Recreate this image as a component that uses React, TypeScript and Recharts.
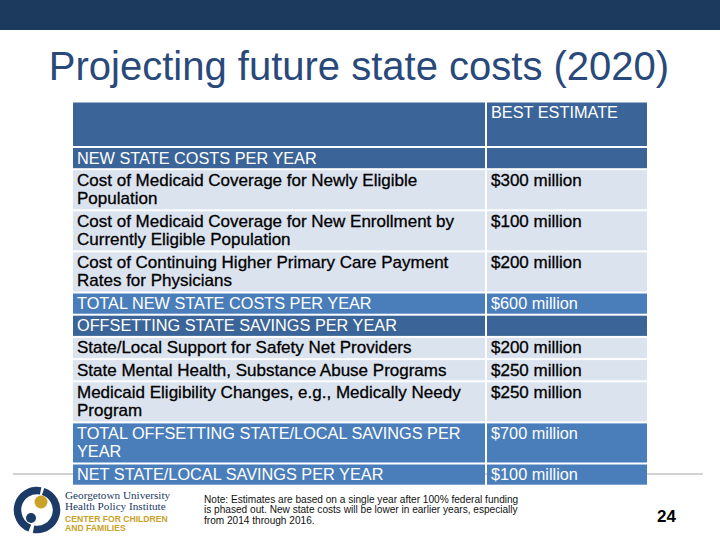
import React from 'react';
import { ComposedChart, XAxis, YAxis, ReferenceArea } from 'recharts';

// ---------- data ----------
const columnHeader = 'BEST ESTIMATE';
const rowLabels: string[][] = [
  [],
  ['NEW STATE COSTS PER YEAR'],
  ['Cost of Medicaid Coverage for Newly Eligible', 'Population'],
  ['Cost of Medicaid Coverage for New Enrollment by', 'Currently Eligible Population'],
  ['Cost of Continuing Higher Primary Care Payment', 'Rates for Physicians'],
  ['TOTAL NEW STATE COSTS PER YEAR'],
  ['OFFSETTING STATE SAVINGS PER YEAR'],
  ['State/Local Support for Safety Net Providers'],
  ['State Mental Health, Substance Abuse Programs'],
  ['Medicaid Eligibility Changes, e.g., Medically Needy', 'Program'],
  ['TOTAL OFFSETTING STATE/LOCAL SAVINGS PER', 'YEAR'],
  ['NET STATE/LOCAL SAVINGS PER YEAR'],
];
const rowValues: (number | null)[] = [null, null, 300, 100, 200, 600, null, 200, 250, 250, 700, 100];
const rowKinds: string[] = ['header', 'section', 'item', 'item', 'item', 'total', 'section', 'item', 'item', 'item', 'total', 'total'];
const rowLineCounts: number[] = [2, 1, 2, 2, 2, 1, 1, 1, 1, 2, 2, 1];
const valueUnit = 'million';
const title = 'Projecting future state costs (2020)';
const noteLines = [
  'Note:  Estimates are based on a single year after 100% federal funding',
  'is phased out.  New state costs will be lower in earlier years, especially',
  'from 2014 through 2016.',
];
const pageNumber = '24';
const logoLines = ['Georgetown University', 'Health Policy Institute', 'CENTER FOR CHILDREN', 'AND FAMILIES'];

// ---------- layout ----------
const FONT = '"Liberation Sans", Arial, sans-serif';
const HEADER_SPAN = 45.5;
const ONE_LINE_SPAN = 22.2;
const PER_EXTRA_LINE = 18.9;
const GAP = 2;
const COL_SPLIT = 412;
const COL_END = 574;

const fills: Record<string, string> = {
  header: '#3b6598',
  section: '#3b6598',
  total: '#4a7ebb',
  item: '#dbe3ef',
};
const textColors: Record<string, string> = {
  header: '#ffffff',
  section: '#ffffff',
  total: '#ffffff',
  item: '#000000',
};

type Row = { top: number; bottom: number; kind: string; label: string[]; value: string };
const rows: Row[] = [];
let acc = 0;
rowLabels.forEach((label, i) => {
  const kind = rowKinds[i];
  const span = kind === 'header' ? HEADER_SPAN : ONE_LINE_SPAN + (rowLineCounts[i] - 1) * PER_EXTRA_LINE;
  const v = rowValues[i];
  rows.push({
    top: acc,
    bottom: acc + span - GAP,
    kind,
    label,
    value: kind === 'header' ? columnHeader : v == null ? '' : `$${v} ${valueUnit}`,
  });
  acc += span;
});
const TOTAL = acc;

const cellShape = (fill: string, lines: string[], color: string) => (p: any) => {
  const dark = color === '#000000';
  return (
    <g>
      <rect x={p.x} y={p.y} width={p.width} height={p.height} fill={fill} />
      {lines.map((t, i) => (
        <text
          key={i}
          x={p.x + 4}
          y={p.y + 15.5 + i * 18.5}
          fill={color}
          fontSize={dark ? 17 : 16.3}
          fontFamily={FONT}
          stroke={dark ? '#000000' : 'none'}
          strokeWidth={dark ? 0.3 : 0}
        >
          {t}
        </text>
      ))}
    </g>
  );
};

const Logo = () => {
  const cx = 37;
  const cy = 510;
  const r = 19.5;
  const arc = (a0: number, a1: number) => {
    const p0 = [cx + r * Math.cos(a0), cy + r * Math.sin(a0)];
    const p1 = [cx + r * Math.cos(a1), cy + r * Math.sin(a1)];
    const large = a1 - a0 > Math.PI ? 1 : 0;
    return `M ${p0[0]} ${p0[1]} A ${r} ${r} 0 ${large} 1 ${p1[0]} ${p1[1]}`;
  };
  return (
    <g>
      <path d={arc(-1.25, 1.75)} stroke="#1b3a66" strokeWidth={7.5} fill="none" />
      <path d={arc(1.95, 4.9)} stroke="#1b3a66" strokeWidth={7.5} fill="none" />
      <circle cx={41} cy={502} r={6.5} fill="#c9a227" />
      <circle cx={31} cy={518} r={5} fill="#1b3a66" />
      <text x={65} y={499} fontFamily='"Liberation Serif", serif' fontSize={11.2} fill="#1b3a66">{logoLines[0]}</text>
      <text x={65} y={509.5} fontFamily='"Liberation Serif", serif' fontSize={11.2} fill="#1b3a66">{logoLines[1]}</text>
      <text x={65} y={521.5} fontFamily={FONT} fontSize={8.6} fill="#c9a227" fontWeight="bold">{logoLines[2]}</text>
      <text x={65} y={531} fontFamily={FONT} fontSize={8.6} fill="#c9a227" fontWeight="bold">{logoLines[3]}</text>
    </g>
  );
};

export default function App() {
  return (
    <div style={{ position: 'absolute', left: 0, top: 0, width: 720, height: 540, background: '#ffffff', overflow: 'hidden' }}>
      <svg width={720} height={540} style={{ position: 'absolute', left: 0, top: 0 }}>
        <rect x={0} y={0} width={720} height={30} fill="#1c3a5e" />
        <text x={359} y={80} textAnchor="middle" fontFamily={FONT} fontSize={40} fill="#28497a">{title}</text>
        <line x1={13} y1={474} x2={703} y2={474} stroke="#a6a6a6" strokeWidth={1.2} />
        <Logo />
        {noteLines.map((t, i) => (
          <text key={i} x={204} y={502.5 + i * 10.5} fontFamily={FONT} fontSize={10.1} fill="#111">{t}</text>
        ))}
        <text x={657} y={522} fontFamily={FONT} fontSize={17} fontWeight="bold" fill="#000">{pageNumber}</text>
      </svg>
      <div style={{ position: 'absolute', left: 0, top: 0 }}>
        <ComposedChart width={720} height={540} data={rows} margin={{ top: 102.5, left: 73, right: 73, bottom: 540 - 102.5 - TOTAL }}>
          <XAxis type="number" dataKey="top" domain={[0, COL_END]} hide allowDataOverflow />
          <YAxis type="number" domain={[0, TOTAL]} reversed hide allowDataOverflow width={0} />
          {rows.map((r, i) => (
            <ReferenceArea
              key={`l${i}`}
              x1={0}
              x2={COL_SPLIT}
              y1={r.top}
              y2={r.bottom}
              ifOverflow="visible"
              isAnimationActive={false}
              shape={cellShape(fills[r.kind], r.label, textColors[r.kind])}
            />
          ))}
          {rows.map((r, i) => (
            <ReferenceArea
              key={`v${i}`}
              x1={COL_SPLIT + GAP}
              x2={COL_END}
              y1={r.top}
              y2={r.bottom}
              ifOverflow="visible"
              isAnimationActive={false}
              shape={cellShape(fills[r.kind], r.value ? [r.value] : [], textColors[r.kind])}
            />
          ))}
        </ComposedChart>
      </div>
    </div>
  );
}
